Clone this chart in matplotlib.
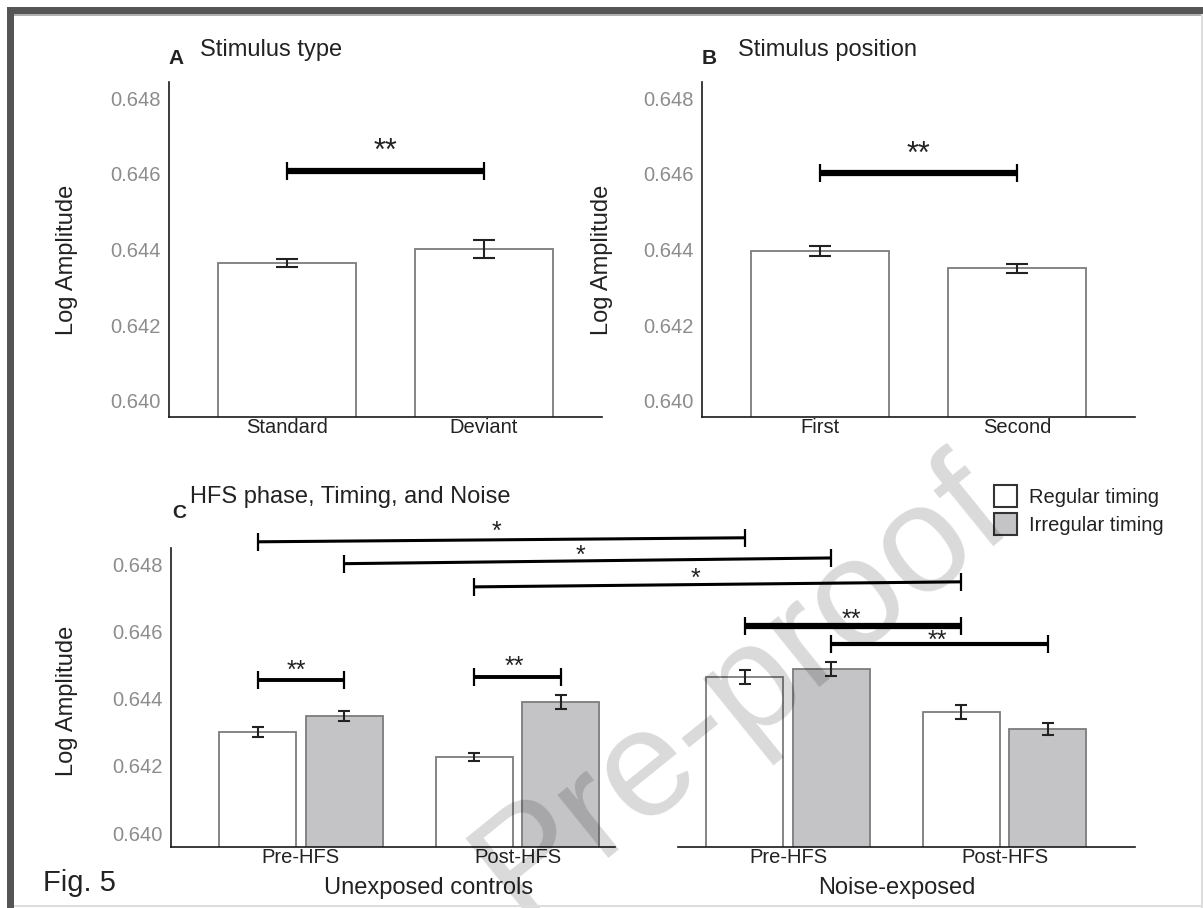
import matplotlib
matplotlib.use("Agg")
import matplotlib.pyplot as plt
from matplotlib.patches import Rectangle, Patch
from matplotlib.transforms import blended_transform_factory

plt.rcParams['font.family'] = ['Liberation Sans', 'DejaVu Sans']

# ---------------- data ----------------
a_categories = ['Standard', 'Deviant']
a_values = [0.64365, 0.64402]
a_errors = [0.00010, 0.00024]
a_sig = [(0, 1, 0.64608, '**')]

b_categories = ['First', 'Second']
b_values = [0.64396, 0.64351]
b_errors = [0.00012, 0.00012]
b_sig = [(0, 1, 0.64602, '**')]

c_groups = ['Unexposed controls', 'Noise-exposed']
c_phases = ['Pre-HFS', 'Post-HFS', 'Pre-HFS', 'Post-HFS']
c_series = ['Regular timing', 'Irregular timing']
c_regular = [0.64301, 0.64226, 0.64464, 0.64360]
c_regular_err = [0.00015, 0.00013, 0.00020, 0.00020]
c_irregular = [0.64348, 0.64390, 0.64488, 0.64310]
c_irregular_err = [0.00016, 0.00020, 0.00020, 0.00018]
# (phase, series, phase, series, y at left end, y at right end, label)
c_sig = [
    (0, 0, 2, 0, 0.64866, 0.64878, '*'),
    (0, 1, 2, 1, 0.64801, 0.64818, '*'),
    (1, 0, 3, 0, 0.64732, 0.64747, '*'),
    (2, 0, 3, 0, 0.64616, 0.64616, '**'),
    (2, 1, 3, 1, 0.64563, 0.64563, '**'),
    (0, 0, 0, 1, 0.64455, 0.64455, '**'),
    (1, 0, 1, 1, 0.64464, 0.64464, '**'),
]
# styling of the significance bars (line width pt, star gap px, star position along bar)
c_sig_width = [2.2, 2.2, 2.2, 4.5, 3.0, 2.8, 2.8]
c_star_gap = [13, 11, 11.5, 12, 8, 15, 16]
c_star_frac = [0.49, 0.485, 0.454, 0.49, 0.49, 0.45, 0.46]
y_ticks = [0.640, 0.642, 0.644, 0.646, 0.648]

# ---------------- layout ----------------
W, H = 1203, 908
fig = plt.figure(figsize=(W / 100, H / 100), dpi=100)

def px_axes(l, t, r, b):
    return fig.add_axes([l / W, 1 - b / H, (r - l) / W, (b - t) / H])

axA = px_axes(169, 82, 602, 417)
axB = px_axes(702, 82, 1135, 417)
axC = px_axes(171, 548, 1135, 847)

TXT = '#222222'
TICKC = '#8c8c8c'
EDGE = '#7c7c7c'
GRAYFILL = '#c4c4c6'
GLYPH_LIFT = 5.5  # px between text box centre and asterisk centre

def style(ax, ylim):
    ax.set_ylim(*ylim)
    ax.set_yticks(y_ticks)
    ax.set_yticklabels([f'{v:.3f}' for v in y_ticks])
    for s in ['top', 'right']:
        ax.spines[s].set_visible(False)
    for s in ['left', 'bottom']:
        ax.spines[s].set_color('#1a1a1a')
        ax.spines[s].set_linewidth(1.2)
    ax.tick_params(axis='both', length=0)
    ax.tick_params(axis='y', labelsize=14.5, labelcolor=TICKC, pad=6)
    ax.tick_params(axis='x', labelsize=14.5, labelcolor=TXT, pad=1)
    ax.set_facecolor('none')

def sig_bar(ax, x1, x2, y1, y2, label, lw, fs, gap_px, frac=0.5):
    ax.plot([x1, x2], [y1, y2], color='black', lw=lw, solid_capstyle='butt',
            marker='|', ms=13, mew=1.6, clip_on=False, zorder=5)
    xm = x1 + (x2 - x1) * frac
    ym = y1 + (y2 - y1) * frac
    ax.annotate(label, xy=(xm, ym), xytext=(0, (gap_px - GLYPH_LIFT) * 0.72),
                textcoords='offset points', ha='center', va='center',
                fontsize=fs, color=TXT, annotation_clip=False, zorder=6)

def simple_panel(ax, cats, vals, errs, sigs, ylabel_x):
    x = list(range(len(cats)))
    ax.bar(x, vals, width=0.70, color='white', edgecolor=EDGE, linewidth=1.3, zorder=2)
    ax.errorbar(x, vals, yerr=errs, fmt='none', ecolor='#222222', elinewidth=1.5,
                capsize=8, capthick=1.5, zorder=3)
    ax.set_xlim(-0.6, 1.6)
    ax.set_xticks(x)
    ax.set_xticklabels(cats)
    style(ax, (0.639577, 0.648423))
    ax.set_ylabel('Log Amplitude', fontsize=17, color=TXT)
    ax.yaxis.set_label_coords(ylabel_x, 0.47)
    for i1, i2, y, lab in sigs:
        sig_bar(ax, x[i1], x[i2], y, y, lab, 4.5, 22, 24)

simple_panel(axA, a_categories, a_values, a_errors, a_sig, -0.21)
simple_panel(axB, b_categories, b_values, b_errors, b_sig, -0.205)

# ---------------- panel C ----------------
phase_pos = [0.0, 1.0, 2.25, 3.25]
offs = [-0.2, 0.2]
bw = 0.356
xr = [p + offs[0] for p in phase_pos]
xi = [p + offs[1] for p in phase_pos]
axC.bar(xr, c_regular, width=bw, color='white', edgecolor=EDGE, linewidth=1.3, zorder=2)
axC.bar(xi, c_irregular, width=bw, color=GRAYFILL, edgecolor=EDGE, linewidth=1.3, zorder=2)
axC.errorbar(xr, c_regular, yerr=c_regular_err, fmt='none', ecolor='#222222',
             elinewidth=1.5, capsize=4.5, capthick=1.5, zorder=3)
axC.errorbar(xi, c_irregular, yerr=c_irregular_err, fmt='none', ecolor='#222222',
             elinewidth=1.5, capsize=4.5, capthick=1.5, zorder=3)
axC.set_xlim(-0.6, 3.852)
axC.set_xticks(phase_pos)
axC.set_xticklabels(c_phases)
style(axC, (0.639584, 0.648476))
axC.spines['bottom'].set_visible(False)
trans = blended_transform_factory(axC.transData, axC.transAxes)
for x0, x1 in [(-0.6, 1.45), (1.74, 3.852)]:
    axC.plot([x0, x1], [0, 0], color='#1a1a1a', lw=1.2, transform=trans, clip_on=False)
axC.set_ylabel('Log Amplitude', fontsize=17, color=TXT)
axC.yaxis.set_label_coords(-0.0965, 0.49)

bar_x = [xr, xi]
for (p1, s1, p2, s2, y1, y2, lab), lw, gap, fr in zip(c_sig, c_sig_width, c_star_gap, c_star_frac):
    sig_bar(axC, bar_x[s1][p1], bar_x[s2][p2], y1, y2, lab, lw, 18, gap, fr)

for gx, name in zip([0.59, 2.75], c_groups):
    axC.text(gx, -0.137, name, transform=trans, ha='center', va='center',
             fontsize=17, color=TXT)

# ---------------- titles / labels ----------------
def ftext(x, y, s, **kw):
    fig.text(x / W, 1 - y / H, s, **kw)

ftext(168, 58, 'A', fontsize=15, weight='bold', color=TXT, va='center')
ftext(200, 50, 'Stimulus type', fontsize=17, color=TXT, va='center')
ftext(702, 59, 'B', fontsize=15, weight='bold', color=TXT, va='center')
ftext(738, 50, 'Stimulus position', fontsize=17, color=TXT, va='center')
ftext(172, 514, 'C', fontsize=14, weight='bold', color=TXT, va='center')
ftext(190, 497, 'HFS phase, Timing, and Noise', fontsize=17, color=TXT, va='center')
ftext(43, 883, 'Fig. 5', fontsize=21, color=TXT, va='center')

handles = [Patch(facecolor='white', edgecolor='#333333', linewidth=1.5),
           Patch(facecolor=GRAYFILL, edgecolor='#333333', linewidth=1.5)]
fig.legend(handles, c_series, loc='upper left', bbox_to_anchor=(994 / W, 1 - 485 / H),
           frameon=False, fontsize=14.5, handlelength=1.13, handleheight=1.3,
           handletextpad=0.6, labelspacing=0.32, borderpad=0, borderaxespad=0,
           labelcolor=TXT)

# watermark
ftext(742, 690, 'Pre-proof', fontsize=110, color='black', alpha=0.15, rotation=39,
      ha='center', va='center', zorder=20)

# frame
for (x, y, w, h, c) in [(7, 7, W - 7, 7, '#555555'), (7, 7, 7, H - 7, '#555555'),
                        (14, 14, W - 14, 1.5, '#b0b0b0'),
                        (W - 2, 14, 2, H - 14, '#dddddd'), (14, H - 3, W - 14, 2, '#dddddd')]:
    fig.add_artist(Rectangle((x / W, 1 - (y + h) / H), w / W, h / H,
                             transform=fig.transFigure, color=c, lw=0, zorder=30))

fig.savefig('out.png', dpi=100)
